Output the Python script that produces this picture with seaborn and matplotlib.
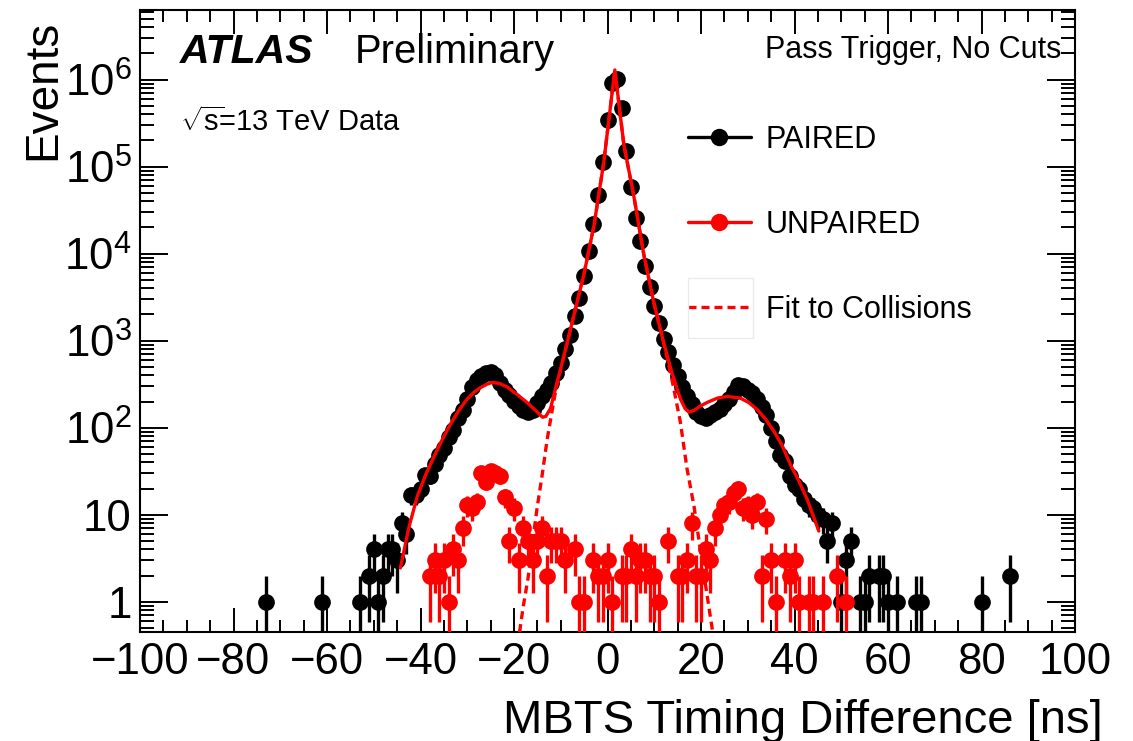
import numpy as np
import pandas as pd
import matplotlib
matplotlib.use("Agg")
import matplotlib.pyplot as plt
import seaborn as sns
from matplotlib.ticker import MultipleLocator, LogLocator, NullFormatter, FixedLocator, FixedFormatter
from matplotlib.lines import Line2D
from matplotlib.patches import Rectangle

# ---------------- data ----------------
paired_t = [-73, -61, -53, -51, -50, -49, -48, -47, -46, -45, -44, -43, -42, -41, -40,
            -39, -38, -37, -36, -35, -34, -33, -32, -31, -30, -29, -28, -27, -26, -25,
            -24, -23, -22, -21, -20, -19, -18, -17, -16, -15, -14, -13, -12, -11, -10,
            -9, -8, -7, -6, -5, -4, -3, -2, -1, 0, 1, 2, 3, 4, 5,
            6, 7, 8, 9, 10, 11, 12, 13, 14, 15, 16, 17, 18, 19, 20,
            21, 22, 23, 24, 25, 26, 27, 28, 29, 30, 31, 32, 33, 34, 35,
            36, 37, 38, 39, 40, 41, 42, 43, 44, 45, 46, 47, 48, 50, 51,
            52, 54, 55, 56, 58, 59, 60, 62, 66, 67, 80, 86]
paired_n = [1, 1, 1, 2, 4, 1, 2, 4, 4, 3, 8, 6, 17, 17, 20,
            29, 28, 38, 48, 58, 78, 95, 128, 160, 215, 290, 350, 390, 420, 440,
            400, 330, 270, 240, 205, 180, 160, 150, 160, 190, 230, 270, 330, 420, 560,
            810, 1170, 1900, 3100, 5600, 10700, 22000, 47000, 112000, 340000, 910000, 1020000, 470000, 150000, 59000,
            26000, 14000, 7200, 4100, 2500, 1600, 1050, 740, 520, 390, 290, 230, 185, 150, 135,
            130, 140, 150, 165, 185, 215, 260, 310, 300, 270, 250, 215, 175, 140, 100,
            70, 48, 42, 28, 22, 20, 15, 13, 12, 10, 9, 5, 8, 1, 3,
            5, 1, 1, 2, 2, 2, 1, 1, 1, 1, 1, 2]

unpaired_t = [-38, -37, -36, -35, -34, -33, -32, -31, -30, -29, -28, -27, -26, -25, -24,
              -23, -22, -21, -20, -19, -18, -17, -16, -15, -14, -13, -12, -11, -10, -9,
              -7, -6, -5, -3, -2, -1, 0, 1, 3, 4, 5, 6, 7, 8, 9,
              10, 11, 13, 15, 16, 17, 18, 19, 20, 21, 22, 23, 24, 25, 26,
              27, 28, 29, 30, 31, 32, 33, 34, 35, 36, 38, 39, 40, 41, 43,
              44, 46, 49, 51]
unpaired_n = [2, 3, 2, 3, 1, 4, 3, 7, 13, 12, 14, 30, 24, 32, 30,
              28, 16, 5, 12, 3, 7, 5, 3, 5, 7, 2, 5, 5, 5, 3,
              4, 1, 1, 3, 2, 2, 3, 1, 2, 2, 4, 2, 3, 3, 2,
              2, 1, 5, 2, 2, 3, 8, 2, 2, 4, 3, 7, 10, 13, 14,
              18, 20, 12, 13, 10, 14, 2, 9, 3, 1, 3, 2, 3, 1, 1,
              1, 1, 2, 1]

# full fit (solid curve)
fit_t = [-44.3, -42.5, -40.7, -38.9, -37.1, -35.3, -33.6, -31.8, -30.0, -28.5,
         -27.2, -25.8, -24.7, -23.2, -21.5, -19.5, -17.2, -15.0, -13.9, -13.2,
         -12.2, -10.8, -9.3, -7.2, -5.1, -2.9, -0.8, 1.57, 3.5, 5.6,
         7.8, 9.9, 12.0, 13.8, 15.6, 16.6, 17.4, 18.5, 19.9, 21.3,
         23.5, 25.6, 28.4, 30.2, 32.0, 33.8, 35.6, 37.4, 39.1, 41.0,
         42.7, 45.2]
fit_v = [2.45, 7.1, 16.2, 28.8, 46.8, 74, 110, 158, 214, 257,
         288, 316, 331, 324, 295, 245, 195, 151, 132, 135,
         166, 331, 676, 1950, 5620, 20900, 112000, 1290000, 178000, 46800,
         9550, 2750, 955, 427, 214, 166, 151, 158, 178, 195,
         219, 229, 219, 195, 162, 126, 91, 62, 38, 24,
         15.1, 6.5]

# fit to collisions only (dashed curve)
coll_t = [-19.2, -18.0, -17.0, -16.0, -15.0, -14.0, -12.9, -11.8, -11.0, -9.3,
          -7.2, -5.1, -2.9, -0.8, 1.57, 3.5, 5.6, 7.8, 9.9, 12.0,
          13.8, 15.6, 17.0, 18.5, 20.6, 22.5, 23.0]
coll_v = [0.32, 0.9, 1.86, 5.0, 12.6, 28, 74, 162, 282, 676,
          1950, 5620, 20900, 112000, 1290000, 178000, 46800, 9550, 2750, 955,
          355, 115, 34, 12.6, 2.1, 0.45, 0.32]

xticks = [-100, -80, -60, -40, -20, 0, 20, 40, 60, 80, 100]
yticks = [1, 10, 100, 1e3, 1e4, 1e5, 1e6]
ytick_labels = ["1", "10", r"$10^{2}$", r"$10^{3}$", r"$10^{4}$", r"$10^{5}$", r"$10^{6}$"]
legend_labels = ["PAIRED", "UNPAIRED", "Fit to Collisions"]

# ---------------- style ----------------
sns.set_theme(style="ticks")
plt.rcParams["font.family"] = ["Liberation Sans", "DejaVu Sans"]
plt.rcParams["mathtext.fontset"] = "custom"
plt.rcParams["mathtext.rm"] = "Liberation Sans"
plt.rcParams["mathtext.it"] = "Liberation Sans:italic"
plt.rcParams["mathtext.bf"] = "Liberation Sans:bold"
plt.rcParams["axes.unicode_minus"] = True
for key in ["text.color", "axes.labelcolor", "xtick.color", "ytick.color", "axes.edgecolor"]:
    plt.rcParams[key] = "black"

W, H = 1133, 741
fig = plt.figure(figsize=(W / 100, H / 100), dpi=100)
fig.patch.set_facecolor("white")
ax = fig.add_axes([140 / W, 1 - 632 / H, 935 / W, 622 / H])
ax.set_facecolor("white")
ax.set_yscale("log")
ax.set_xlim(-100, 100)
ax.set_ylim(0.45, 6.3e6)

df_p = pd.DataFrame({"t": paired_t, "n": paired_n})
df_u = pd.DataFrame({"t": unpaired_t, "n": unpaired_n})
df_fit = pd.DataFrame({"t": fit_t, "v": fit_v})
df_coll = pd.DataFrame({"t": coll_t, "v": coll_v})

MS = 145
ELW = 2.4

# paired
ax.errorbar(df_p["t"], df_p["n"], yerr=np.sqrt(df_p["n"]), fmt="none",
            ecolor="black", elinewidth=ELW, capsize=0, zorder=2)
sns.scatterplot(data=df_p, x="t", y="n", color="black", s=MS, linewidth=0,
                ax=ax, zorder=3, legend=False)
# unpaired
ax.errorbar(df_u["t"], df_u["n"], yerr=np.sqrt(df_u["n"]), fmt="none",
            ecolor="#ff0000", elinewidth=ELW, capsize=0, zorder=4)
sns.scatterplot(data=df_u, x="t", y="n", color="#ff0000", s=MS, linewidth=0,
                ax=ax, zorder=5, legend=False)
# fits
DASH = (0, (2.4, 1.5))
sns.lineplot(data=df_coll, x="t", y="v", color="#ff0000", lw=2.4, linestyle=DASH,
             estimator=None, sort=False, ax=ax, zorder=6, legend=False)
sns.lineplot(data=df_fit, x="t", y="v", color="#ff0000", lw=2.4,
             estimator=None, sort=False, ax=ax, zorder=7, legend=False)

# ---------------- axes ----------------
ax.xaxis.set_major_locator(FixedLocator(xticks))
ax.xaxis.set_minor_locator(MultipleLocator(5))
ax.yaxis.set_major_locator(FixedLocator(yticks))
ax.yaxis.set_major_formatter(FixedFormatter(ytick_labels))
ax.yaxis.set_minor_locator(LogLocator(base=10, subs=np.arange(2, 10), numticks=30))
ax.yaxis.set_minor_formatter(NullFormatter())

ax.tick_params(axis="x", which="major", direction="in", length=17, width=1.4,
               top=True, bottom=True, labelsize=31.5, pad=7, colors="black")
ax.tick_params(axis="x", which="minor", direction="in", length=8.6, width=1.4,
               top=True, bottom=True, colors="black")
ax.tick_params(axis="y", which="major", direction="in", length=20, width=1.4,
               left=True, right=True, labelsize=31.5, pad=6, colors="black")
ax.tick_params(axis="y", which="minor", direction="in", length=10, width=1.4,
               left=True, right=True, colors="black")
for sp in ax.spines.values():
    sp.set_linewidth(1.5)
    sp.set_color("black")
    sp.set_visible(True)

ax.set_xlabel("MBTS Timing Difference [ns]", fontsize=34, ha="right", va="baseline",
              color="black")
ax.xaxis.set_label_coords((1103 - 140) / 935, (632 - 733) / 622)
ax.set_ylabel("Events", fontsize=33, ha="right", va="center", color="black")
ax.yaxis.set_label_coords((43 - 140) / 935, (632 - 20) / 622)

# ---------------- texts ----------------
fig.text(180 / W, 1 - 63 / H, "ATLAS", fontsize=29.5, fontweight="bold",
         fontstyle="italic", va="baseline", ha="left", color="black")
fig.text(355 / W, 1 - 63 / H, "Preliminary", fontsize=28.8, va="baseline", ha="left",
         color="black")
fig.text(180 / W, 1 - 131 / H, r"$\sqrt{\mathrm{s}}\!$=13 TeV Data", fontsize=21,
         va="baseline", ha="left", color="black")
fig.text(765 / W, 1 - 58 / H, "Pass Trigger, No Cuts", fontsize=22,
         va="baseline", ha="left", color="black")

# ---------------- legend ----------------
handles = [
    Line2D([], [], color="black", marker="o", markersize=11.5, lw=2.4),
    Line2D([], [], color="#ff0000", marker="o", markersize=11.5, lw=2.4),
    Line2D([], [], color="#ff0000", lw=2.4, linestyle=DASH),
]
leg = ax.legend(handles, legend_labels, loc="upper left",
                bbox_to_anchor=(688 / W, 1 - 125 / H), bbox_transform=fig.transFigure,
                frameon=False, fontsize=22, handlelength=2.05, handletextpad=0.5,
                labelspacing=1.8, borderpad=0, borderaxespad=0, numpoints=1)
for txt in leg.get_texts():
    txt.set_color("black")
fig.add_artist(Rectangle((688 / W, 1 - 338 / H), 65 / W, 60 / H,
                         transform=fig.transFigure, fill=False,
                         edgecolor="#ebebeb", lw=1))

fig.savefig("out.png", dpi=100, facecolor="white")
